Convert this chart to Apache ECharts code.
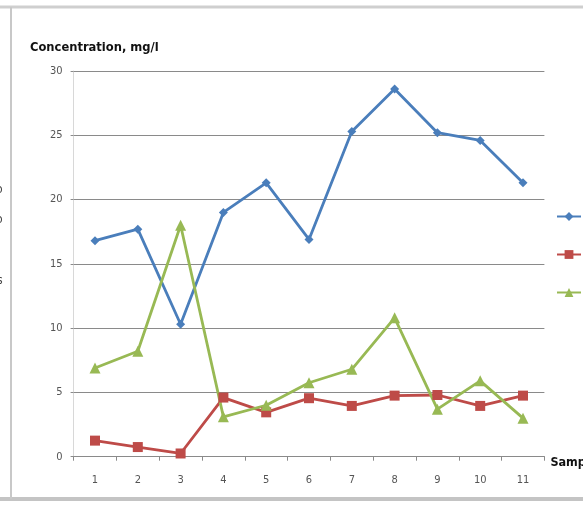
<!DOCTYPE html>
<html>
<head>
<meta charset="utf-8">
<script src="https://cdn.jsdelivr.net/npm/echarts@6/dist/echarts.min.js"></script>
<style>
  html, body { margin: 0; padding: 0; background: #fff; }
  #chart { width: 583px; height: 506px; }
</style>
</head>
<body>
<div id="chart"></div>
<script>
// Sample numbers along the x axis
const samples = ['1', '2', '3', '4', '5', '6', '7', '8', '9', '10', '11'];

// Concentrations (mg/l) per sample for each measured component
const seriesNames = ['Series 1', 'Series 2', 'Series 3'];
const blueValues = [16.8, 17.7, 10.3, 19.0, 21.3, 16.9, 25.3, 28.6, 25.2, 24.6, 21.3];
const redValues = [1.25, 0.75, 0.25, 4.6, 3.45, 4.55, 3.95, 4.75, 4.8, 3.95, 4.75];
const greenValues = [6.9, 8.2, 18.0, 3.1, 4.0, 5.75, 6.8, 10.8, 3.7, 5.9, 3.0];

// Value axis ticks
const yMin = 0, yMax = 30, yStep = 5;

const font = "'Liberation Sans Narrow', 'DejaVu Sans Condensed', 'Open Sans', sans-serif";

const chart = echarts.init(document.getElementById('chart'), null, { renderer: 'canvas' });

function lineSeries(name, data, color, symbol, size) {
  return {
    name: name,
    type: 'line',
    data: data,
    symbol: symbol,
    symbolSize: size,
    showAllSymbol: true,
    lineStyle: { color: color, width: 2.8 },
    itemStyle: { color: color },
    emphasis: { disabled: true },
    animation: false,
    z: 3
  };
}

chart.setOption({
  animation: false,
  backgroundColor: '#ffffff',
  textStyle: { fontFamily: font },
  title: {
    text: 'Concentration, mg/l',
    left: 25,
    top: 36,
    textStyle: { fontFamily: font, fontSize: 12.8, fontWeight: 'bold', color: '#111' }
  },
  legend: {
    orient: 'vertical',
    left: 551,
    top: 206,
    itemGap: 27,
    itemWidth: 24,
    itemHeight: 11,
    textStyle: { fontFamily: font, fontSize: 11, color: '#333' },
    data: seriesNames
  },
  grid: { left: 73.6, right: 38.6, top: 71, bottom: 49.3, containLabel: false, outerBoundsMode: 'none' },
  xAxis: {
    type: 'category',
    data: samples,
    boundaryGap: true,
    name: 'Sample number',
    nameLocation: 'end',
    nameGap: 6,
    nameTextStyle: { fontFamily: font, fontSize: 12.5, fontWeight: 'bold', color: '#111', verticalAlign: 'top' },
    axisLine: { lineStyle: { color: '#8a8a8a', width: 1 } },
    axisTick: { show: true, alignWithLabel: false, length: 4, lineStyle: { color: '#8a8a8a' } },
    axisLabel: { margin: 18, fontSize: 11, color: '#555', fontFamily: font },
    splitLine: { show: false }
  },
  yAxis: {
    type: 'value',
    min: yMin,
    max: yMax,
    interval: yStep,
    axisLine: { show: true, lineStyle: { color: '#d8d8d8', width: 1 } },
    axisTick: { show: true, length: 3, inside: false, lineStyle: { color: '#8a8a8a' } },
    axisLabel: { margin: 11, fontSize: 11, color: '#555', fontFamily: font },
    splitLine: { show: true, lineStyle: { color: '#8a8a8a', width: 1 } }
  },
  series: [
    lineSeries(seriesNames[0], blueValues, '#4a7ebb', 'diamond', 9),
    lineSeries(seriesNames[1], redValues, '#be4b48', 'rect', 10),
    lineSeries(seriesNames[2], greenValues, '#98b954', 'triangle', 11)
  ],
  graphic: [
    // outer frame of the chart area
    { type: 'line', shape: { x1: 0, y1: 7, x2: 583, y2: 7 }, style: { stroke: '#cfcfcf', lineWidth: 3 }, silent: true },
    { type: 'line', shape: { x1: 0, y1: 499, x2: 583, y2: 499 }, style: { stroke: '#c4c4c4', lineWidth: 4 }, silent: true },
    { type: 'line', shape: { x1: 11, y1: 7, x2: 11, y2: 499 }, style: { stroke: '#c8c8c8', lineWidth: 2 }, silent: true },
    // fragments of neighbouring text at the left margin
    { type: 'text', left: -4, top: 184, style: { text: 'o', font: '12px ' + font, fill: '#444' }, silent: true },
    { type: 'text', left: -4, top: 214, style: { text: 'o', font: '12px ' + font, fill: '#444' }, silent: true },
    { type: 'text', left: -3, top: 275, style: { text: 's', font: '12px ' + font, fill: '#444' }, silent: true }
  ]
});
</script>
</body>
</html>
